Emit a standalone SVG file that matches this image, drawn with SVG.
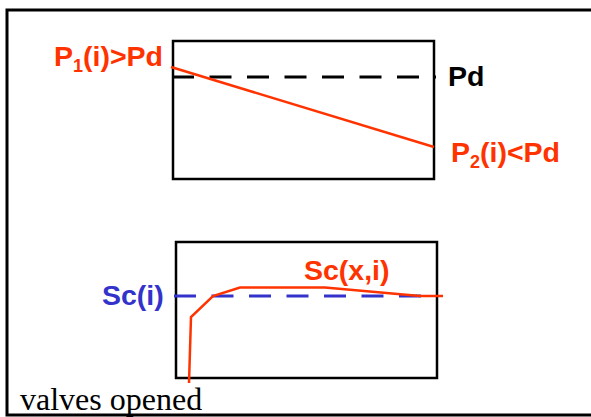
<svg xmlns="http://www.w3.org/2000/svg" width="591" height="417" viewBox="0 0 591 417">
<style>
.box{fill:none;stroke:#000;stroke-width:2.5}
.red{fill:none;stroke:#ff3300;stroke-width:2.5;stroke-linejoin:miter}
.dash{fill:none;stroke-width:3;stroke-dasharray:22 15.5}
.lbl{font-family:"Liberation Sans",Arial,sans-serif;font-weight:bold;font-size:28.5px}
.rt{fill:#ff3300}
.bt{fill:#3333cc}
.kt{fill:#000}
</style>
<rect x="7" y="10" width="600" height="405" fill="#fff" stroke="#000" stroke-width="3"/>
<g id="top-plot">
<rect class="box" x="173" y="41" width="261" height="138"/>
<line class="dash" x1="172" y1="77" x2="436" y2="77" stroke="#000"/>
<line class="red" x1="171" y1="67" x2="434" y2="147"/>
<text class="lbl rt" x="54" y="66">P<tspan font-size="18" dy="6">1</tspan><tspan dy="-6">(i)&gt;Pd</tspan></text>
<text class="lbl kt" x="448" y="86">Pd</text>
<text class="lbl rt" x="451" y="162">P<tspan font-size="18" dy="6">2</tspan><tspan dy="-6">(i)&lt;Pd</tspan></text>
</g>
<g id="bottom-plot">
<rect class="box" x="176" y="242" width="261" height="136"/>
<line class="dash" x1="174" y1="296" x2="421" y2="296" stroke="#3333cc"/>
<polyline class="red" points="189,383 191,317 213,296 240,287.5 325,287.5 420,296 443,296"/>
<text class="lbl bt" x="102" y="305">Sc(i)</text>
<text class="lbl rt" x="304" y="280">Sc(x,i)</text>
</g>
<text x="20" y="410" font-family="'Liberation Serif','Times New Roman',serif" font-size="32" fill="#000">valves opened</text>
</svg>
